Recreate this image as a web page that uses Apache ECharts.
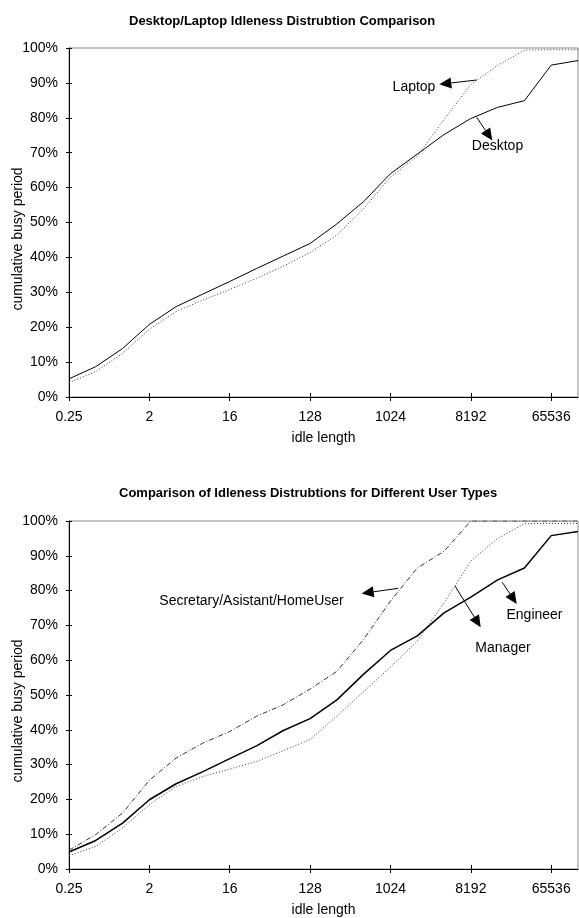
<!DOCTYPE html>
<html>
<head>
<meta charset="utf-8">
<script src="https://cdn.jsdelivr.net/npm/echarts@6/dist/echarts.min.js"></script>
<style>
html,body{margin:0;padding:0;background:#fff;}
#chart{width:579px;height:918px;}
</style>
</head>
<body>
<div id="chart"></div>
<script>
// ---- data ----
const idleLengths = ['0.25','0.5','1','2','4','8','16','32','64','128','256','512','1024','2048','4096','8192','16384','32768','65536','131072'];
const yTicks = [0,10,20,30,40,50,60,70,80,90,100];

const desktop = [5.2, 8.7, 13.9, 20.8, 25.9, 29.5, 33.1, 36.8, 40.4, 44.0, 49.6, 56.0, 64.0, 69.6, 75.2, 79.8, 83.0, 84.9, 95.1, 96.4];
const laptop  = [4.1, 7.3, 12.5, 19.4, 24.5, 27.8, 30.8, 34.0, 37.5, 41.4, 46.4, 54.0, 63.0, 69.0, 79.5, 89.5, 95.0, 99.4, 99.5, 99.5];

const engineer  = [4.9, 8.2, 13.2, 19.9, 24.5, 28.0, 31.7, 35.4, 39.8, 43.2, 48.6, 56.0, 62.8, 67.0, 73.6, 78.1, 83.1, 86.5, 95.8, 97.0];
const manager   = [3.8, 6.5, 11.8, 18.5, 23.7, 26.6, 28.7, 30.9, 34.0, 37.2, 43.9, 51.0, 58.0, 65.5, 76.5, 88.5, 95.0, 99.2, 99.3, 99.3];
const secretary = [5.4, 9.9, 16.1, 25.5, 31.9, 36.2, 39.5, 43.9, 47.2, 51.7, 56.8, 66.0, 77.0, 86.5, 91.3, 100, 100, 100, 100, 100];

const title1 = 'Desktop/Laptop Idleness Distrubtion Comparison';
const title2 = 'Comparison of Idleness Distrubtions for Different User Types';
const xName = 'idle length';
const yName = 'cumulative busy period';

// ---- styling ----
const FONT = '"Liberation Sans", Arial, Helvetica, sans-serif';
const chart = echarts.init(document.getElementById('chart'), null, {renderer:'canvas'});

const grids = [
  {left:69, top:48, right:1, height:349},
  {left:69, top:521, right:1, height:348}
];

function mainX(gi){
  return {
    type:'category', gridIndex:gi, data:idleLengths, boundaryGap:false,
    name:xName, nameLocation:'middle', nameGap:34,
    nameTextStyle:{fontFamily:FONT, fontSize:14, color:'#000'},
    axisLine:{show:true, lineStyle:{color:'#000', width:1}},
    axisTick:{show:true, interval:2, length:4, lineStyle:{color:'#000'}},
    axisLabel:{interval:2, margin:13, fontFamily:FONT, fontSize:14, color:'#000'},
    splitLine:{show:false}
  };
}
function dupX(gi){
  return {
    type:'category', gridIndex:gi, data:idleLengths, boundaryGap:false, position:'bottom',
    axisLine:{show:false},
    axisTick:{show:true, inside:true, interval:2, length:4, lineStyle:{color:'#000'}},
    axisLabel:{show:false}, splitLine:{show:false}
  };
}
function mainY(gi){
  return {
    type:'value', gridIndex:gi, min:0, max:100, interval:10,
    axisLine:{show:true, lineStyle:{color:'#000', width:1}},
    axisTick:{show:true, length:3, lineStyle:{color:'#000'}},
    axisLabel:{margin:11, fontFamily:FONT, fontSize:14, color:'#000',
      formatter:function(v){ return yTicks.indexOf(v) >= 0 ? v + '%' : ''; }},
    splitLine:{show:false}
  };
}
function dupY(gi){
  return {
    type:'value', gridIndex:gi, min:0, max:100, interval:10, position:'left',
    axisLine:{show:false},
    axisTick:{show:true, inside:true, length:3, lineStyle:{color:'#000'}},
    axisLabel:{show:false}, splitLine:{show:false}
  };
}

function ser(name, data, gi, type, width, color){
  return {
    name:name, type:'line', xAxisIndex:gi, yAxisIndex:gi, data:data,
    symbol:'none', smooth:false, silent:true, animation:false,
    lineStyle:{color:color, width:width, type:type}
  };
}

function arrow(x1,y1,x2,y2){
  const a = Math.atan2(y2-y1, x2-x1);
  const L = 12, W = 5.5;
  const bx = x2 - L*Math.cos(a), by = y2 - L*Math.sin(a);
  const px = -Math.sin(a)*W, py = Math.cos(a)*W;
  return [
    {type:'line', shape:{x1:x1,y1:y1,x2:bx,y2:by}, style:{stroke:'#000', lineWidth:1}, silent:true},
    {type:'polygon', shape:{points:[[x2,y2],[bx+px,by+py],[bx-px,by-py]]}, style:{fill:'#000'}, silent:true}
  ];
}
function label(txt, cx, cy){
  return {type:'text', x:cx, y:cy, silent:true,
    style:{text:txt, font:'14px ' + FONT, fill:'#000', textAlign:'center', textVerticalAlign:'middle'}};
}
function vlabel(txt, cx, cy){
  return {type:'text', x:cx, y:cy, rotation:Math.PI/2, silent:true,
    style:{text:txt, font:'14px ' + FONT, fill:'#000', textAlign:'center', textVerticalAlign:'middle'}};
}

const graphics = [].concat(
  arrow(476.7,80,439.3,84.3), [label('Laptop', 414, 87.5)],
  arrow(476.7,117.3,492.3,140.5), [label('Desktop', 497.5, 146)],
  arrow(398.3,588.3,361.7,593.5), [label('Secretary/Asistant/HomeUser', 251.5, 601.5)],
  arrow(455,586,480.7,627.3), [label('Manager', 503, 648)],
  arrow(502.3,582.3,516.7,604), [label('Engineer', 534.5, 615.5)],
  [vlabel(yName, 18, 239), vlabel(yName, 18, 711)]
);

const option = {
  animation:false,
  backgroundColor:'#fff',
  title:[
    {text:title1, left:124, top:10, textStyle:{fontFamily:FONT, fontSize:13, fontWeight:'bold', color:'#000'}},
    {text:title2, left:114, top:482, textStyle:{fontFamily:FONT, fontSize:13, fontWeight:'bold', color:'#000'}}
  ],
  grid: grids.map(g => Object.assign({show:true, borderColor:'#888', borderWidth:1, backgroundColor:'transparent'}, g)),
  xAxis:[mainX(0), mainX(1), dupX(0), dupX(1)],
  yAxis:[mainY(0), mainY(1), dupY(0), dupY(1)],
  series:[
    ser('Desktop', desktop, 0, 'solid', 1, '#000'),
    ser('Laptop', laptop, 0, [1,2], 1, '#333'),
    ser('Engineer', engineer, 1, 'solid', 1.5, '#000'),
    ser('Manager', manager, 1, [1,2], 1, '#333'),
    ser('Secretary/Asistant/HomeUser', secretary, 1, [5,2,1,2], 1, '#333')
  ],
  graphic: graphics
};
chart.setOption(option);
</script>
</body>
</html>
